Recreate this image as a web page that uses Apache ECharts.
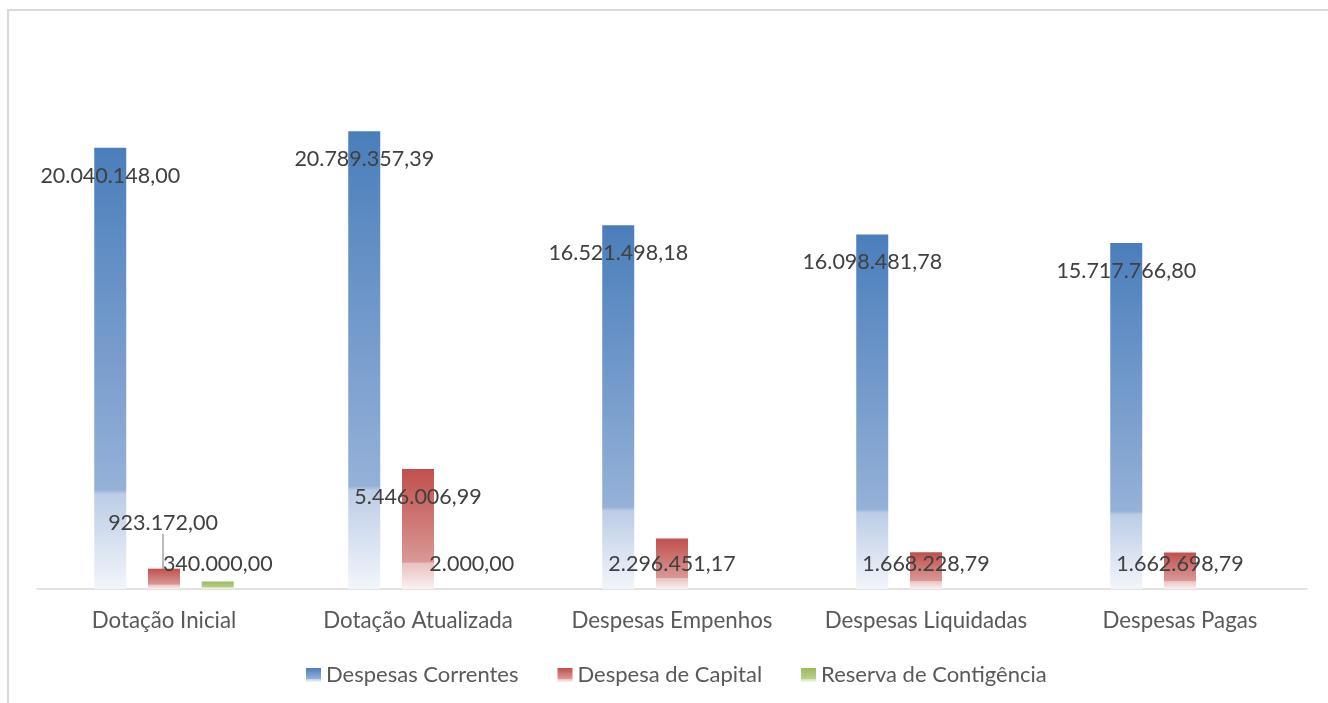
<!DOCTYPE html>
<html>
<head>
<meta charset="utf-8">
<script src="https://cdn.jsdelivr.net/npm/echarts@6/dist/echarts.min.js"></script>
<style>
html,body{margin:0;padding:0;background:#fff;}
#chart{width:1328px;height:703px;}
</style>
</head>
<body>
<div id="chart"></div>
<script>
var categories = ['Dotação Inicial', 'Dotação Atualizada', 'Despesas Empenhos', 'Despesas Liquidadas', 'Despesas Pagas'];
var seriesNames = ['Despesas Correntes', 'Despesa de Capital', 'Reserva de Contigência'];
var despesasCorrentes = [20040148.00, 20789357.39, 16521498.18, 16098481.78, 15717766.80];
var despesaCapital = [923172.00, 5446006.99, 2296451.17, 1668228.79, 1662698.79];
var reservaContingencia = [340000.00, 2000.00, null, null, null];

var FONT = 'Lato, "Noto Sans", sans-serif';

function fmtBR(v) {
  var parts = Number(v).toFixed(2).split('.');
  var intPart = parts[0].replace(/\B(?=(\d{3})+(?!\d))/g, '.');
  return intPart + ',' + parts[1];
}

function grad(c0, c1, c2, c3) {
  return new echarts.graphic.LinearGradient(0, 0, 0, 1, [
    {offset: 0, color: c0},
    {offset: 0.775, color: c1},
    {offset: 0.785, color: c2},
    {offset: 1, color: c3}
  ]);
}

var colors = [
  grad('#4a7ebb', '#95b1d8', '#bccde6', '#f2f5fb'),
  grad('#c0504d', '#d99896', '#e9c1c0', '#fbf1f1'),
  grad('#9bbb59', '#b9d08c', '#d2e1b5', '#f5f9ee')
];

function labelLayout(p) {
  var r = p.rect;
  var top = Math.min(r.y, r.y + r.height);
  var bottom = Math.max(r.y, r.y + r.height);
  var cx = r.x + r.width / 2;
  if (p.seriesIndex === 1 && p.dataIndex === 0) {
    return {
      x: cx - 1, y: top - 46, align: 'center', verticalAlign: 'middle',
      labelLinePoints: [[cx, top - 29], [cx, top - 15], [cx, top]]
    };
  }
  return {x: cx, y: Math.min(top + 28, bottom - 25), align: 'center', verticalAlign: 'middle'};
}

var dataSets = [despesasCorrentes, despesaCapital, reservaContingencia];
var series = dataSets.map(function (d, i) {
  return {
    name: seriesNames[i],
    type: 'bar',
    data: d,
    barWidth: 32,
    barGap: '68%',
    itemStyle: {color: colors[i]},
    label: {
      show: true,
      position: 'inside',
      color: '#404040',
      fontFamily: FONT,
      fontSize: 21.5,
      formatter: function (p) { return p.value == null ? '' : fmtBR(p.value); }
    },
    labelLine: {show: i === 1, lineStyle: {color: '#a6a6a6', width: 1.5}},
    labelLayout: labelLayout
  };
});

var chart = echarts.init(document.getElementById('chart'));
chart.setOption({
  animation: false,
  backgroundColor: '#ffffff',
  graphic: [{
    type: 'rect',
    shape: {x: 8, y: 10, width: 1340, height: 720},
    style: {fill: 'none', stroke: '#d9d9d9', lineWidth: 2},
    silent: true
  }],
  grid: {left: 37, right: 21, top: 60.5, bottom: 114, containLabel: false},
  legend: {
    data: seriesNames,
    left: 301,
    top: 659,
    itemWidth: 15,
    itemHeight: 14,
    itemGap: 39,
    icon: 'rect',
    textStyle: {color: '#595959', fontFamily: FONT, fontSize: 22}
  },
  xAxis: {
    type: 'category',
    data: categories,
    axisLine: {lineStyle: {color: '#d9d9d9', width: 1.5}},
    axisTick: {show: false},
    axisLabel: {color: '#595959', fontFamily: FONT, fontSize: 22.3, margin: 21, interval: 0, hideOverlap: false}
  },
  yAxis: {
    type: 'value',
    min: 0,
    max: 24000000,
    show: false,
    splitLine: {show: false}
  },
  series: series
});
</script>
</body>
</html>
